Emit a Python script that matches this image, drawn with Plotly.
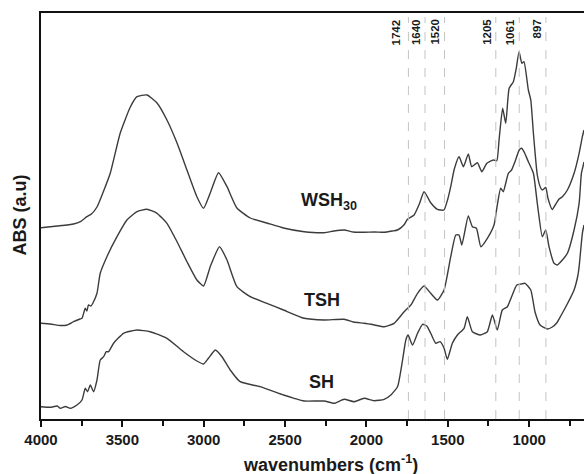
import plotly.graph_objects as go

# ---------------- data ----------------
wsh_wn = [4000, 3900, 3800, 3758, 3718, 3690, 3656, 3620, 3574, 3513, 3451, 3410, 3349, 3287,
          3226, 3164, 3103, 3042, 3001, 2960, 2909, 2857, 2796, 2714, 2612, 2510, 2383, 2260,
          2200, 2137, 2080, 2014, 1950, 1891, 1840, 1809, 1770, 1748, 1707, 1675, 1646, 1605,
          1564, 1524, 1500, 1482, 1460, 1431, 1404, 1374, 1353, 1318, 1291, 1260, 1220, 1199,
          1185, 1163, 1144, 1123, 1097, 1080, 1062, 1045, 1032, 1005, 990, 974, 950, 929, 918,
          898, 885, 858, 840, 816, 796, 765, 724, 693, 673, 663]
wsh_abs = [1.913, 1.93, 1.95, 1.973, 2.023, 2.05, 2.12, 2.26, 2.46, 2.86, 3.12, 3.223, 3.24, 3.16,
           2.99, 2.76, 2.49, 2.223, 2.107, 2.26, 2.463, 2.323, 2.11, 2.01, 1.96, 1.91, 1.873, 1.863,
           1.88, 1.89, 1.87, 1.867, 1.87, 1.867, 1.88, 1.89, 1.94, 1.997, 2.04, 2.15, 2.273, 2.163,
           2.097, 2.09, 2.2, 2.323, 2.5, 2.623, 2.523, 2.65, 2.523, 2.563, 2.473, 2.557, 2.59, 2.583,
           2.79, 3.107, 2.957, 3.307, 3.373, 3.5, 3.673, 3.557, 3.573, 3.29, 3.19, 2.86, 2.44, 2.31,
           2.29, 2.315, 2.21, 2.095, 2.14, 2.20, 2.223, 2.29, 2.457, 2.657, 2.823, 2.89]

tsh_wn = [4000, 3943, 3880, 3840, 3800, 3760, 3748, 3728, 3718, 3708, 3693, 3677, 3656, 3636,
          3595, 3533, 3472, 3410, 3349, 3287, 3226, 3164, 3103, 3042, 3001, 2960, 2903, 2857,
          2796, 2714, 2612, 2510, 2383, 2260, 2137, 2080, 2014, 1950, 1891, 1830, 1768, 1727,
          1686, 1646, 1605, 1564, 1523, 1482, 1451, 1431, 1414, 1374, 1349, 1324, 1297, 1257,
          1216, 1199, 1175, 1159, 1128, 1108, 1087, 1061, 1046, 1032, 1005, 974, 950, 919, 898,
          878, 847, 827, 796, 765, 724, 693, 679, 667, 663]
tsh_abs = [0.957, 0.95, 0.935, 0.94, 0.973, 1.00, 1.007, 1.107, 1.08, 1.14, 1.13, 1.173, 1.257, 1.457,
           1.623, 1.823, 1.99, 2.073, 2.097, 2.057, 1.957, 1.773, 1.573, 1.39, 1.33, 1.523, 1.723, 1.59,
           1.323, 1.223, 1.157, 1.09, 1.007, 0.99, 0.997, 0.97, 0.957, 0.94, 0.923, 0.957, 1.073, 1.14,
           1.257, 1.33, 1.257, 1.19, 1.29, 1.623, 1.84, 1.84, 1.74, 2.03, 1.923, 1.907, 1.723, 1.807,
           1.94, 2.107, 2.307, 2.273, 2.457, 2.49, 2.573, 2.69, 2.707, 2.673, 2.573, 2.457, 2.157, 1.823, 1.89,
           1.723, 1.557, 1.54, 1.59, 1.657, 1.89, 2.157, 2.457, 2.54, 2.57]

sh_wn = [4000, 3943, 3900, 3881, 3850, 3820, 3779, 3748, 3728, 3714, 3697, 3677, 3656, 3636,
         3615, 3599, 3585, 3554, 3493, 3410, 3329, 3226, 3124, 3042, 3001, 2971, 2929, 2888,
         2837, 2776, 2653, 2510, 2444, 2383, 2260, 2198, 2137, 2076, 2014, 1953, 1891, 1850,
         1809, 1778, 1758, 1744, 1717, 1686, 1655, 1629, 1605, 1574, 1547, 1523, 1503, 1472,
         1441, 1400, 1380, 1349, 1300, 1257, 1226, 1196, 1165, 1134, 1108, 1076, 1050, 1025,
         990, 964, 933, 888, 858, 831, 806, 769, 724, 700, 693, 673, 663]
sh_abs = [0.123, 0.117, 0.13, 0.107, 0.125, 0.107, 0.14, 0.19, 0.307, 0.273, 0.34, 0.273, 0.39, 0.59,
          0.623, 0.673, 0.673, 0.757, 0.857, 0.89, 0.873, 0.807, 0.673, 0.58, 0.55, 0.607, 0.69, 0.623,
          0.49, 0.373, 0.323, 0.24, 0.207, 0.18, 0.18, 0.157, 0.197, 0.173, 0.207, 0.183, 0.197, 0.24,
          0.323, 0.59, 0.79, 0.84, 0.74, 0.857, 0.947, 0.93, 0.857, 0.757, 0.773, 0.707, 0.597, 0.757,
          0.84, 0.907, 1.023, 0.873, 0.84, 0.873, 1.04, 0.89, 1.09, 1.123, 1.223, 1.34, 1.35, 1.357,
          1.29, 1.07, 0.94, 0.90, 0.92, 0.96, 1.03, 1.14, 1.29, 1.44, 1.523, 1.857, 1.94]

peak_positions = [1742, 1640, 1520, 1205, 1061, 897]
peak_labels = ["1742", "1640", "1520", "1205", "1061", "897"]

series_names = ["WSH<sub>30</sub>", "TSH", "SH"]
x_ticks = [4000, 3500, 3000, 2500, 2000, 1500, 1000]
x_minor_ticks = [3750, 3250, 2750, 2250, 1750, 1250, 750]

# ---------------- figure ----------------
FONT = "Liberation Sans, Arial, sans-serif"
TXT = "#1a1a1a"
line_color = "#3c3c3c"
W, H = 584, 474
ML, MR, MT, MB = 41, 0, 13, 55

fig = go.Figure()
for wn, ab in [(wsh_wn, wsh_abs), (tsh_wn, tsh_abs), (sh_wn, sh_abs)]:
    fig.add_trace(go.Scatter(x=wn, y=ab, mode="lines",
                             line=dict(color=line_color, width=1.4, shape="spline", smoothing=0.5),
                             showlegend=False, hoverinfo="skip"))

# vertical dashed reference lines and their rotated labels
for i, (p, lab) in enumerate(zip(peak_positions, peak_labels)):
    fig.add_shape(type="line", xref="x", yref="paper", x0=p, x1=p, y0=0, y1=0.99,
                  line=dict(color="#c4c4c4", width=1, dash="dash"))
    fig.add_annotation(x=p, xref="x", y=0.99, yref="paper", text=lab, textangle=-90,
                       showarrow=False, xanchor="right", yanchor="top",
                       xshift=-4 if i == 0 else -1,
                       font=dict(family=FONT, size=11.5, color=TXT, weight="bold"))

# curve labels
label_pos = [(2413, 2.18), (2395, 1.19), (2364, 0.37)]
for name, (lx, ly) in zip(series_names, label_pos):
    fig.add_annotation(x=lx, y=ly, xref="x", yref="y", text=name, showarrow=False,
                       xanchor="left", yanchor="middle",
                       font=dict(family=FONT, size=18, color=TXT, weight="bold"))

# axis titles (placed in pixel terms of the paper)
pw, ph = W - ML - MR, H - MT - MB
fig.add_annotation(x=(330 - ML) / pw, y=(H - MB - 464) / ph, xref="paper", yref="paper",
                   text="wavenumbers (cm<sup>-1</sup>)", showarrow=False,
                   xanchor="center", yanchor="middle",
                   font=dict(family=FONT, size=18, color=TXT, weight="bold"))
fig.add_annotation(x=(19.5 - ML) / pw, y=(H - MB - 215) / ph, xref="paper", yref="paper",
                   text="ABS (a.u)", textangle=-90, showarrow=False,
                   xanchor="center", yanchor="middle",
                   font=dict(family=FONT, size=18, color=TXT, weight="bold"))

fig.update_layout(
    width=W, height=H, autosize=False,
    margin=dict(l=ML, r=MR, t=MT, b=MB),
    paper_bgcolor="white", plot_bgcolor="white",
    font=dict(family=FONT, color=TXT),
    xaxis=dict(range=[4000, 663], tickvals=x_ticks, ticks="outside", ticklen=6, tickwidth=1.5,
               tickcolor="#111", showline=True, linecolor="#111", linewidth=1.5, mirror=True,
               showgrid=False, zeroline=False,
               tickfont=dict(family=FONT, size=15, color=TXT, weight="bold"),
               minor=dict(tickvals=x_minor_ticks, ticks="outside",
                          ticklen=5, tickwidth=1.5, tickcolor="#111", showgrid=False)),
    yaxis=dict(range=[0, 4.06], showline=True, linecolor="#111", linewidth=1.5,
               showticklabels=False, ticks="", showgrid=False, zeroline=False),
)

fig.write_html("out.html", config={"displayModeBar": False},
               post_script="document.body.style.margin='0';")
